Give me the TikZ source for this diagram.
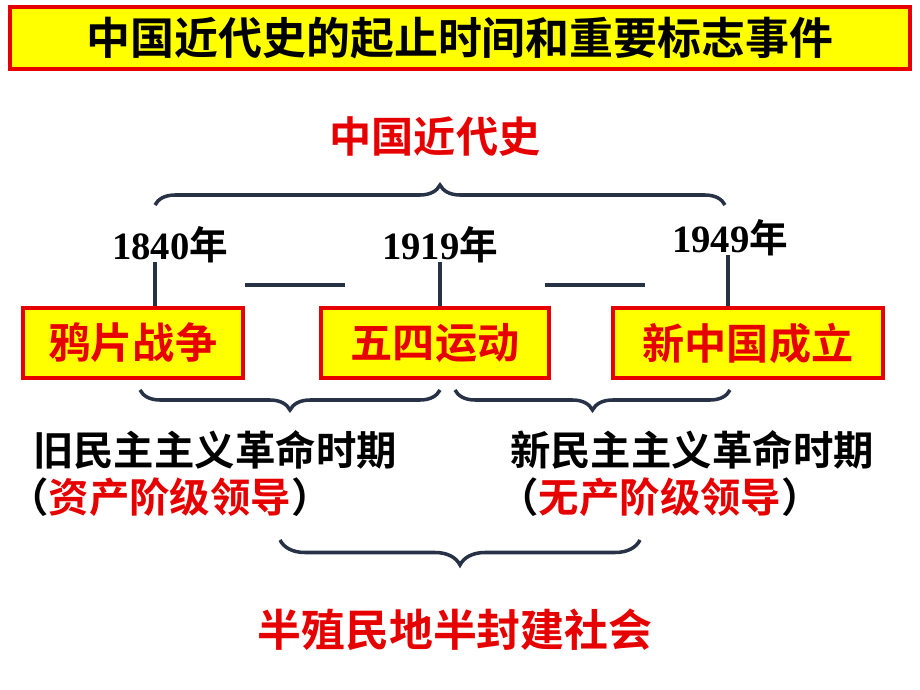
\documentclass[tikz,border=0pt]{standalone}
\usepackage{fontspec}
\setmainfont{Liberation Serif}
\newfontfamily\cjk{Noto Sans CJK SC}[BoldFont={Noto Sans CJK SC Bold}]
\usetikzlibrary{decorations.pathreplacing}
\definecolor{bred}{RGB}{230,0,0}
\definecolor{byellow}{RGB}{255,255,0}
\definecolor{slate}{RGB}{40,50,70}
\begin{document}
\begin{tikzpicture}[
        x=0.02cm, y=-0.02cm,
        event/.style={rectangle, draw=bred, fill=byellow, line width=2.5pt, minimum height=1.4cm,
                      font=\cjk\bfseries\fontsize{24}{28}\selectfont, text=bred},
        year/.style={font=\bfseries\fontsize{22}{25}\selectfont},
        period/.style={font=\cjk\bfseries\fontsize{23}{26}\selectfont},
        bracetop/.style={decorate, decoration={brace, amplitude=0.4cm}, line width=2pt, draw=slate},
        tick/.style={line width=2pt, draw=slate}
    ]
    \useasboundingbox (0,0) rectangle (920,690);

    % Titel
    \node[rectangle, draw=bred, fill=byellow, line width=2pt, minimum width=18cm, minimum height=1.25cm,
          font=\cjk\bfseries\fontsize{25}{28}\selectfont] (title) at (460,38) {中国近代史的起止时间和重要标志事件};

    \node[font=\cjk\bfseries\fontsize{24}{28}\selectfont, text=bred] (modern) at (435,137) {中国近代史};

    % Jahre
    \node[year] (y1840) at (170,245) {1840{\cjk 年}};
    \node[year] (y1919) at (440,245) {1919{\cjk 年}};
    \node[year] (y1949) at (730,238) {1949{\cjk 年}};

    % Ereignisse
    \node[event, minimum width=4.4cm] (opium) at (133,343) {鸦片战争};
    \node[event, minimum width=4.55cm] (mayfourth) at (435,343) {五四运动};
    \node[event, minimum width=5.4cm] (prc) at (748,343) {新中国成立};

    % Linien
    \coordinate (t1) at (155,262);
    \coordinate (t2) at (440,262);
    \coordinate (t3) at (728,255);
    \draw[tick] (opium.north -| t1) -- (t1);
    \draw[tick] (mayfourth.north -| t2) -- (t2);
    \draw[tick] (prc.north -| t3) -- (t3);
    \coordinate (d1a) at (245,285); \coordinate (d1b) at (345,285);
    \coordinate (d2a) at (545,285); \coordinate (d2b) at (645,285);
    \draw[tick] (d1a) -- (d1b);
    \draw[tick] (d2a) -- (d2b);

    % Klammern
    \coordinate (b1a) at (155,205); \coordinate (b1b) at (725,205);
    \draw[bracetop] (b1a) -- (b1b);
    \coordinate (b2a) at (140,390); \coordinate (b2b) at (440,390);
    \draw[bracetop] (b2b) -- (b2a);
    \coordinate (b3a) at (455,390); \coordinate (b3b) at (730,390);
    \draw[bracetop] (b3b) -- (b3a);
    \coordinate (b4a) at (280,540); \coordinate (b4b) at (640,540);
    \draw[bracetop, decoration={amplitude=0.5cm}] (b4b) -- (b4a);

    % Perioden
    \node[period] (oldrev) at (215,450) {旧民主主义革命时期};
    \node[period] (oldlead) at (170,497) {（\textcolor{bred}{资产阶级领导}）};
    \node[period] (newrev) at (692,450) {新民主主义革命时期};
    \node[period] (newlead) at (660,497) {（\textcolor{bred}{无产阶级领导}）};

    \node[font=\cjk\bfseries\fontsize{25}{28}\selectfont, text=bred] (semi) at (455,630) {半殖民地半封建社会};
\end{tikzpicture}
\end{document}
